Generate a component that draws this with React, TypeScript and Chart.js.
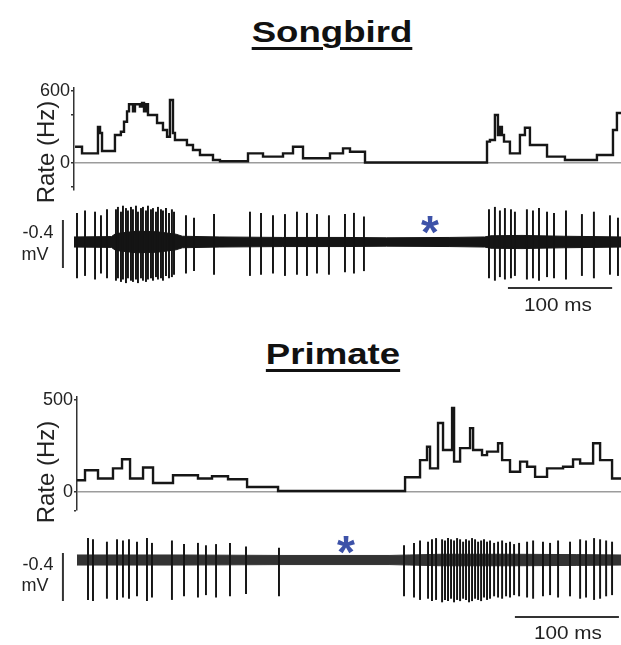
import React, { useEffect, useRef } from "react";
import { Chart, registerables } from "chart.js";
Chart.register(...registerables);

const FONT = '"Liberation Sans", Arial, Helvetica, sans-serif';

// ---------------- Songbird: firing rate (step histogram) ----------------
const songbirdRateT = [1, 7.7, 23, 25, 26.9, 39.3, 45, 48, 50.9, 52.8, 56.6, 58.5, 63.3, 65.3, 67.2, 69.1, 71, 79.7, 85.4, 89.3, 92.1, 95, 96.9, 108.4, 114.2, 120.9, 133.4, 140.1, 167, 181.4, 200.6, 210.2, 219.8, 245.7, 258.2, 264.9, 279.3, 396.4, 399.2, 404, 406.9, 408.8, 410.7, 412.7, 418.4, 428, 432.8, 437.6, 454, 471.2, 501.9, 517.3, 521.1, 525];
const songbirdRateHz = [136, 80, 300, 250, 100, 233, 260, 344, 430, 490, 430, 490, 470, 500, 430, 490, 400, 333, 275, 219, 525, 250, 192, 150, 108, 67, 25, 15, 80, 53, 80, 136, 40, 80, 122, 94, 4, 178, 192, 400, 233, 300, 233, 178, 80, 233, 294, 150, 53, 25, 67, 275, 417, 417];
const songbirdRateTicks = [-200, 0, 400, 600];
const songbirdRateTickLabels = ["", "0", "", "600"];

// ---------------- Primate: firing rate ----------------
const primateRateT = [0, 7.7, 20.2, 34.6, 43.3, 51, 63.5, 73.1, 92.3, 116.3, 129.8, 145.2, 163.5, 193.3, 315.4, 329.8, 336.5, 339.4, 347.1, 351.9, 360.6, 362.5, 368.3, 377.9, 380.8, 389.4, 394.2, 404.8, 408.7, 416.3, 426, 432.7, 440.4, 451.9, 467.3, 476.9, 483.7, 496.2, 502.9, 514.4, 523];
const primateRateHz = [64, 118, 73, 128, 178, 73, 133, 49, 91, 73, 85, 69, 27, 5, 80, 173, 246, 128, 375, 228, 457, 165, 238, 347, 228, 200, 219, 265, 173, 110, 165, 137, 82, 128, 137, 177, 155, 265, 173, 73, 73];
const primateRateTicks = [-100, 0, 500];
const primateRateTickLabels = ["", "0", "500"];

// ---------------- Songbird: extracellular trace (spikes, mV) ----------------
const songbirdSpikeT = [2.9, 10.6, 20.2, 25.9, 31.7, 40.3, 42.2, 45.1, 47, 49.9, 51.8, 54.7, 56.6, 59.5, 61.4, 64.3, 66.2, 69.1, 71, 73.9, 75.8, 78.7, 80.6, 83.5, 85.4, 88.3, 91.2, 94, 96, 107.5, 115.2, 134.4, 168.9, 179.5, 191, 202.5, 214, 223.6, 233.2, 244.7, 260.1, 268.7, 278.3, 398.3, 404, 408.8, 413.6, 419.4, 423.2, 434.7, 440.5, 446.3, 454, 460.7, 472.2, 487.5, 499, 514.4, 522.1];
const songbirdSpikeUp = [0.24, 0.26, 0.25, 0.22, 0.27, 0.27, 0.29, 0.25, 0.3, 0.28, 0.26, 0.29, 0.27, 0.3, 0.25, 0.28, 0.29, 0.26, 0.3, 0.27, 0.28, 0.25, 0.29, 0.27, 0.26, 0.28, 0.24, 0.27, 0.25, 0.22, 0.2, 0.23, 0.25, 0.24, 0.22, 0.23, 0.25, 0.24, 0.23, 0.22, 0.23, 0.24, 0.21, 0.27, 0.29, 0.26, 0.28, 0.27, 0.25, 0.27, 0.26, 0.28, 0.25, 0.24, 0.26, 0.23, 0.25, 0.22, 0.2];
const songbirdSpikeDown = [-0.3, -0.28, -0.31, -0.26, -0.3, -0.32, -0.3, -0.33, -0.31, -0.34, -0.3, -0.32, -0.33, -0.31, -0.34, -0.3, -0.32, -0.33, -0.31, -0.3, -0.32, -0.29, -0.31, -0.3, -0.32, -0.28, -0.3, -0.29, -0.27, -0.26, -0.24, -0.27, -0.28, -0.27, -0.26, -0.28, -0.27, -0.28, -0.26, -0.27, -0.25, -0.26, -0.24, -0.3, -0.32, -0.29, -0.31, -0.3, -0.28, -0.31, -0.3, -0.32, -0.29, -0.3, -0.31, -0.28, -0.3, -0.27, -0.28];
const songbirdNoiseT = [0, 36, 40, 60, 80, 98, 104, 140, 200, 260, 300, 360, 394, 400, 430, 470, 500, 525];
const songbirdNoiseMv = [0.042, 0.045, 0.07, 0.09, 0.085, 0.065, 0.048, 0.042, 0.038, 0.038, 0.035, 0.038, 0.042, 0.052, 0.055, 0.048, 0.045, 0.042];

// ---------------- Primate: extracellular trace ----------------
const primateSpikeT = [10.6, 15.4, 28.8, 38.5, 44.2, 50, 57.7, 67.3, 72.1, 91.3, 102.9, 116.3, 124, 133.7, 147.1, 162.5, 194.2, 314.4, 324, 329.8, 337.5, 341.3, 345.2, 351, 353.8, 356.7, 359.6, 362.5, 365.4, 368.3, 371.2, 374, 376.9, 379.8, 382.7, 385.6, 388.5, 391.3, 394.2, 397.1, 401, 404.8, 408.7, 412.5, 416.3, 420.2, 425, 432.7, 438.5, 448, 454.8, 462.5, 474, 483.7, 489.4, 497.1, 502.9, 508.7, 514.4];
const primateSpikeUp = [0.18, 0.17, 0.15, 0.17, 0.16, 0.17, 0.15, 0.18, 0.14, 0.16, 0.13, 0.14, 0.12, 0.13, 0.14, 0.11, 0.1, 0.12, 0.14, 0.16, 0.15, 0.17, 0.18, 0.17, 0.16, 0.18, 0.17, 0.16, 0.18, 0.17, 0.15, 0.17, 0.16, 0.18, 0.17, 0.15, 0.16, 0.17, 0.15, 0.16, 0.14, 0.15, 0.16, 0.14, 0.15, 0.13, 0.14, 0.15, 0.16, 0.15, 0.14, 0.16, 0.15, 0.17, 0.16, 0.18, 0.17, 0.16, 0.15];
const primateSpikeDown = [-0.33, -0.34, -0.32, -0.33, -0.31, -0.32, -0.3, -0.34, -0.31, -0.33, -0.3, -0.31, -0.29, -0.31, -0.3, -0.28, -0.3, -0.3, -0.31, -0.33, -0.32, -0.34, -0.33, -0.35, -0.33, -0.34, -0.32, -0.35, -0.33, -0.34, -0.32, -0.33, -0.35, -0.34, -0.32, -0.33, -0.34, -0.31, -0.33, -0.32, -0.3, -0.31, -0.32, -0.3, -0.31, -0.29, -0.3, -0.31, -0.32, -0.3, -0.29, -0.31, -0.3, -0.32, -0.31, -0.33, -0.32, -0.3, -0.29];
const primateNoiseT = [0, 100, 200, 300, 320, 350, 420, 480, 523];
const primateNoiseMv = [0.042, 0.042, 0.038, 0.038, 0.042, 0.048, 0.048, 0.045, 0.042];

// scale bars
const scaleBarMs = 100;
const scaleBarMv = 0.4;

type RateProps = {
  top: number; height: number; padTop: number; padBottom: number; axisX: number;
  xMax: number; yMin: number; yMax: number;
  times: number[]; rates: number[]; ticks: number[]; labels: string[];
};

function RateChart(p: RateProps) {
  const ref = useRef<HTMLCanvasElement>(null);
  useEffect(() => {
    const pts = p.times.map((t, i) => ({ x: t, y: p.rates[i] }));
    const chart = new Chart(ref.current!, {
      type: "line",
      data: {
        datasets: [{
          data: pts, stepped: true, borderColor: "#161616", borderWidth: 2.4,
          pointRadius: 0, fill: false,
        }],
      },
      options: {
        responsive: false, animation: false, events: [],
        layout: { padding: { left: 0, right: 0, top: p.padTop, bottom: p.padBottom } },
        plugins: { legend: { display: false }, tooltip: { enabled: false } },
        scales: {
          x: { type: "linear", display: false, min: 0, max: p.xMax },
          y: {
            type: "linear", min: p.yMin, max: p.yMax,
            afterFit: (s: any) => { s.width = p.axisX; },
            afterBuildTicks: (s: any) => { s.ticks = p.ticks.map((v) => ({ value: v })); },
            ticks: {
              callback: (v: any) => { const i = p.ticks.indexOf(Number(v)); return i >= 0 ? p.labels[i] : ""; },
              font: { size: 18, family: FONT }, color: "#222", padding: 1, autoSkip: false, maxRotation: 0,
            },
            grid: {
              color: (c: any) => (c.tick && c.tick.value === 0 ? "#9c9c9c" : "rgba(0,0,0,0)"),
              lineWidth: 1.6, tickColor: "#333", tickLength: 3, drawTicks: true,
            },
            border: { display: true, color: "#333", width: 1.5 },
          },
        },
      } as any,
    });
    return () => chart.destroy();
  }, []);
  return <canvas ref={ref} width={621} height={p.height} style={{ position: "absolute", left: 0, top: p.top }} />;
}

type SpikeProps = {
  top: number; height: number; xMin: number; xMax: number; yMin: number; yMax: number;
  times: number[]; up: number[]; down: number[]; noiseT: number[]; noiseMv: number[];
  noiseColor: string; msBarStart: number; msBarY: number; mvBarX: number; mvBarTop: number;
};

function SpikeChart(p: SpikeProps) {
  const ref = useRef<HTMLCanvasElement>(null);
  useEffect(() => {
    const upper = p.noiseT.map((t, i) => ({ x: t, y: p.noiseMv[i] }));
    const lower = p.noiseT.map((t, i) => ({ x: t, y: -p.noiseMv[i] }));
    const spikes = p.times.map((t, i) => ({ x: t, y: [p.down[i], p.up[i]] }));
    const msBar = [{ x: p.msBarStart, y: p.msBarY }, { x: p.msBarStart + scaleBarMs, y: p.msBarY }];
    const mvBar = [{ x: p.mvBarX, y: p.mvBarTop }, { x: p.mvBarX, y: p.mvBarTop - scaleBarMv }];
    const chart = new Chart(ref.current!, {
      type: "bar",
      data: {
        datasets: [
          { type: "line", data: upper, borderColor: p.noiseColor, borderWidth: 1, pointRadius: 0, fill: false, order: 3 },
          { type: "line", data: lower, borderColor: p.noiseColor, backgroundColor: p.noiseColor, borderWidth: 1, pointRadius: 0, fill: "-1", order: 3 },
          { type: "bar", data: spikes, backgroundColor: "#141414", barThickness: 1.3, grouped: false, order: 2 },
          { type: "line", data: msBar, borderColor: "#333", borderWidth: 2, pointRadius: 0, fill: false, order: 1 },
          { type: "line", data: mvBar, borderColor: "#333", borderWidth: 2, pointRadius: 0, fill: false, order: 1 },
        ],
      },
      options: {
        responsive: false, animation: false, events: [],
        layout: { padding: 0 },
        plugins: { legend: { display: false }, tooltip: { enabled: false } },
        scales: {
          x: { type: "linear", display: false, min: p.xMin, max: p.xMax, offset: false },
          y: { type: "linear", display: false, min: p.yMin, max: p.yMax },
        },
      } as any,
    });
    return () => chart.destroy();
  }, []);
  return <canvas ref={ref} width={621} height={p.height} style={{ position: "absolute", left: 0, top: p.top }} />;
}

function Txt(props: { x: number; y: number; w: number; h: number; size: number; bold?: boolean; color?: string; rotate?: number; sx?: number; underline?: boolean; align?: any; children: React.ReactNode }) {
  const { x, y, w, h, size, bold, color, rotate, sx, underline, align } = props;
  return (
    <div style={{
      position: "absolute", left: x - w / 2, top: y - h / 2, width: w, height: h, lineHeight: h + "px",
      fontSize: size, fontFamily: FONT, fontWeight: bold ? 700 : 400, color: color || "#222",
      textAlign: align || "center", whiteSpace: "nowrap",
      transform: `rotate(${rotate || 0}deg) scaleX(${sx || 1})`,
      textDecoration: underline ? "underline" : "none", textDecorationThickness: underline ? "3px" : undefined,
      textUnderlineOffset: underline ? "5px" : undefined,
    }}>{props.children}</div>
  );
}

export default function App() {
  return (
    <div style={{ position: "absolute", left: 0, top: 0, width: 621, height: 645, background: "#fff", overflow: "hidden" }}>
      <Txt x={332} y={32} w={200} h={36} size={30} bold underline sx={1.22} color="#111">Songbird</Txt>
      <RateChart top={70} height={140} padTop={18} padBottom={20} axisX={74} xMax={525} yMin={-225} yMax={625}
        times={songbirdRateT} rates={songbirdRateHz} ticks={songbirdRateTicks} labels={songbirdRateTickLabels} />
      <Txt x={46} y={152} w={140} h={30} size={24} rotate={-90}>Rate (Hz)</Txt>
      <SpikeChart top={195} height={100} xMin={-71} xMax={525} yMin={-0.442} yMax={0.392}
        times={songbirdSpikeT} up={songbirdSpikeUp} down={songbirdSpikeDown} noiseT={songbirdNoiseT} noiseMv={songbirdNoiseMv}
        noiseColor="#151515" msBarStart={416.5} msBarY={-0.383} mvBarX={-10.6} mvBarTop={0.183} />
      <Txt x={38} y={232} w={50} h={22} size={18}>-0.4</Txt>
      <Txt x={35} y={254} w={50} h={22} size={18}>mV</Txt>
      <Txt x={430} y={232} w={50} h={50} size={46} bold color="#3d52a8">*</Txt>
      <Txt x={558} y={305} w={100} h={22} size={18} sx={1.15}>100 ms</Txt>

      <Txt x={333} y={354} w={200} h={36} size={30} bold underline sx={1.22} color="#111">Primate</Txt>
      <RateChart top={380} height={145} padTop={17} padBottom={15} axisX={77} xMax={523} yMin={-98} yMax={516}
        times={primateRateT} rates={primateRateHz} ticks={primateRateTicks} labels={primateRateTickLabels} />
      <Txt x={46} y={472} w={140} h={30} size={24} rotate={-90}>Rate (Hz)</Txt>
      <SpikeChart top={525} height={100} xMin={-74} xMax={523} yMin={-0.542} yMax={0.292}
        times={primateSpikeT} up={primateSpikeUp} down={primateSpikeDown} noiseT={primateNoiseT} noiseMv={primateNoiseMv}
        noiseColor="#333" msBarStart={421} msBarY={-0.475} mvBarX={-13.5} mvBarTop={0.058} />
      <Txt x={38} y={564} w={50} h={22} size={18}>-0.4</Txt>
      <Txt x={35} y={585} w={50} h={22} size={18}>mV</Txt>
      <Txt x={346} y={552} w={50} h={50} size={46} bold color="#3d52a8">*</Txt>
      <Txt x={568} y={633} w={100} h={22} size={18} sx={1.15}>100 ms</Txt>
    </div>
  );
}
